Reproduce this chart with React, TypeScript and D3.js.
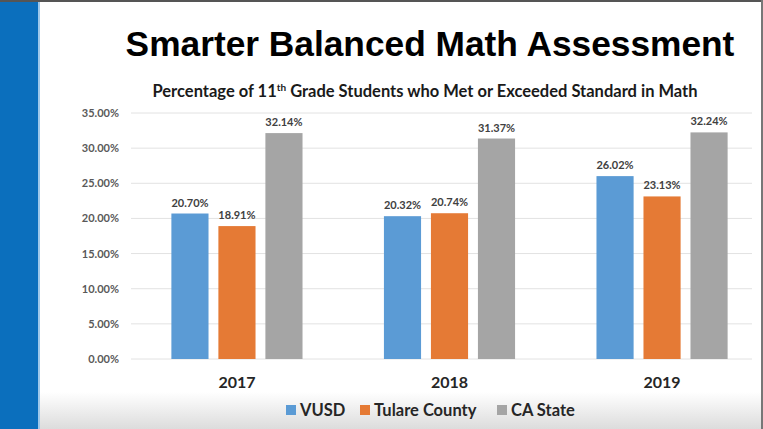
import { useEffect, useRef } from 'react';
import * as d3 from 'd3';

const years = ['2017', '2018', '2019'];
const series = ['VUSD', 'Tulare County', 'CA State'];
const vusd = [20.7, 20.32, 26.02];
const tulare = [18.91, 20.74, 23.13];
const caState = [32.14, 31.37, 32.24];
const yTicks = [0, 5, 10, 15, 20, 25, 30, 35];
const colors = ['#5b9bd5', '#e57a35', '#a5a5a5'];

const W = 763;
const H = 429;

const App = () => {
  const svgRef = useRef<SVGSVGElement>(null);

  useEffect(() => {
    document.body.style.margin = '0';
    if (!svgRef.current) return;
    const svg = d3.select(svgRef.current);
    svg.selectAll('*').remove();

    const values = [vusd, tulare, caState];

    // background and slide frame
    const defs = svg.append('defs');
    const grad = defs
      .append('linearGradient')
      .attr('id', 'bottomFade')
      .attr('x1', 0)
      .attr('x2', 0)
      .attr('y1', 0)
      .attr('y2', 1);
    grad.append('stop').attr('offset', '0%').attr('stop-color', '#ffffff');
    grad.append('stop').attr('offset', '100%').attr('stop-color', '#dcdcdc');

    svg.append('rect').attr('width', W).attr('height', H).attr('fill', '#ffffff');
    svg
      .append('rect')
      .attr('x', 0)
      .attr('y', 392)
      .attr('width', W)
      .attr('height', H - 392)
      .attr('fill', 'url(#bottomFade)');
    svg.append('rect').attr('x', 0).attr('y', 0).attr('width', 38).attr('height', H).attr('fill', '#0b6fbd');
    svg.append('rect').attr('x', 38).attr('y', 0).attr('width', 2).attr('height', H).attr('fill', '#9ec8ea');
    svg.append('rect').attr('x', 0).attr('y', 0).attr('width', W).attr('height', 2).attr('fill', '#555');
    svg.append('rect').attr('x', 761).attr('y', 0).attr('width', 2).attr('height', H).attr('fill', '#777');

    // titles
    svg
      .append('text')
      .attr('x', 430)
      .attr('y', 56)
      .attr('text-anchor', 'middle')
      .style('font-family', 'Liberation Sans, Arial, sans-serif')
      .style('font-weight', 'bold')
      .style('font-size', '35.3px')
      .attr('fill', '#000')
      .text('Smarter Balanced Math Assessment');

    const sub = svg
      .append('text')
      .attr('x', 425)
      .attr('y', 97)
      .attr('text-anchor', 'middle')
      .style('font-family', 'Lato, sans-serif')
      .style('font-weight', 'bold')
      .style('font-size', '16.5px')
      .attr('fill', '#1a1a1a');
    sub.append('tspan').text('Percentage of 11');
    sub.append('tspan').attr('dy', -6).style('font-size', '10px').text('th');
    sub.append('tspan').attr('dy', 6).text(' Grade Students who Met or Exceeded Standard in Math');

    // scales
    const y = d3.scaleLinear().domain([0, 35]).range([359, 113]);
    const x0 = d3
      .scaleBand()
      .domain(years)
      .range([131, 768])
      .paddingInner(0.383)
      .paddingOuter(0.19);
    const x1 = d3
      .scaleBand()
      .domain(series)
      .range([0, x0.bandwidth()])
      .paddingInner(0.21);

    // gridlines and y labels
    const grid = svg.append('g');
    grid
      .selectAll('line')
      .data(yTicks)
      .join('line')
      .attr('x1', 131)
      .attr('x2', 752)
      .attr('y1', (d) => y(d))
      .attr('y2', (d) => y(d))
      .attr('stroke', '#e2e2e2')
      .attr('stroke-width', 1);
    grid
      .selectAll('text')
      .data(yTicks)
      .join('text')
      .attr('x', 119)
      .attr('y', (d) => y(d) + 4)
      .attr('text-anchor', 'end')
      .style('font-family', 'Lato, sans-serif')
      .style('font-weight', 'bold')
      .style('font-size', '11px')
      .attr('fill', '#595959')
      .text((d) => d.toFixed(2) + '%');

    // bars
    const rows = years.map((yr, i) => ({
      year: yr,
      items: series.map((s, j) => ({ key: s, value: values[j][i], color: colors[j] })),
    }));

    const groups = svg
      .append('g')
      .selectAll('g')
      .data(rows)
      .join('g')
      .attr('transform', (d) => `translate(${x0(d.year)},0)`);

    groups
      .selectAll('rect')
      .data((d) => d.items)
      .join('rect')
      .attr('x', (d) => x1(d.key)!)
      .attr('width', x1.bandwidth())
      .attr('y', (d) => y(d.value))
      .attr('height', (d) => y(0) - y(d.value))
      .attr('fill', (d) => d.color);

    groups
      .selectAll('text.val')
      .data((d) => d.items)
      .join('text')
      .attr('class', 'val')
      .attr('x', (d) => x1(d.key)! + x1.bandwidth() / 2)
      .attr('y', (d) => y(d.value) - 7)
      .attr('text-anchor', 'middle')
      .style('font-family', 'Lato, sans-serif')
      .style('font-weight', 'bold')
      .style('font-size', '11px')
      .attr('fill', '#404040')
      .text((d) => d.value.toFixed(2) + '%');

    // x labels
    svg
      .append('g')
      .selectAll('text')
      .data(years)
      .join('text')
      .attr('x', (d) => x0(d)! + x0.bandwidth() / 2)
      .attr('y', 388)
      .attr('text-anchor', 'middle')
      .style('font-family', 'Lato, sans-serif')
      .style('font-weight', 'bold')
      .style('font-size', '16px')
      .attr('fill', '#262626')
      .text((d) => d);

    // legend
    const legendX = [286, 360, 497];
    const legend = svg
      .append('g')
      .selectAll('g')
      .data(series)
      .join('g')
      .attr('transform', (_, i) => `translate(${legendX[i]},405)`);
    legend
      .append('rect')
      .attr('width', 10)
      .attr('height', 10)
      .attr('fill', (_, i) => colors[i]);
    legend
      .append('text')
      .attr('x', 14)
      .attr('y', 11)
      .style('font-family', 'Lato, sans-serif')
      .style('font-weight', 'bold')
      .style('font-size', '16.5px')
      .attr('fill', '#262626')
      .text((d) => d);
  }, []);

  return (
    <svg
      ref={svgRef}
      width={W}
      height={H}
      style={{ position: 'absolute', left: 0, top: 0 }}
    />
  );
};

export default App;
